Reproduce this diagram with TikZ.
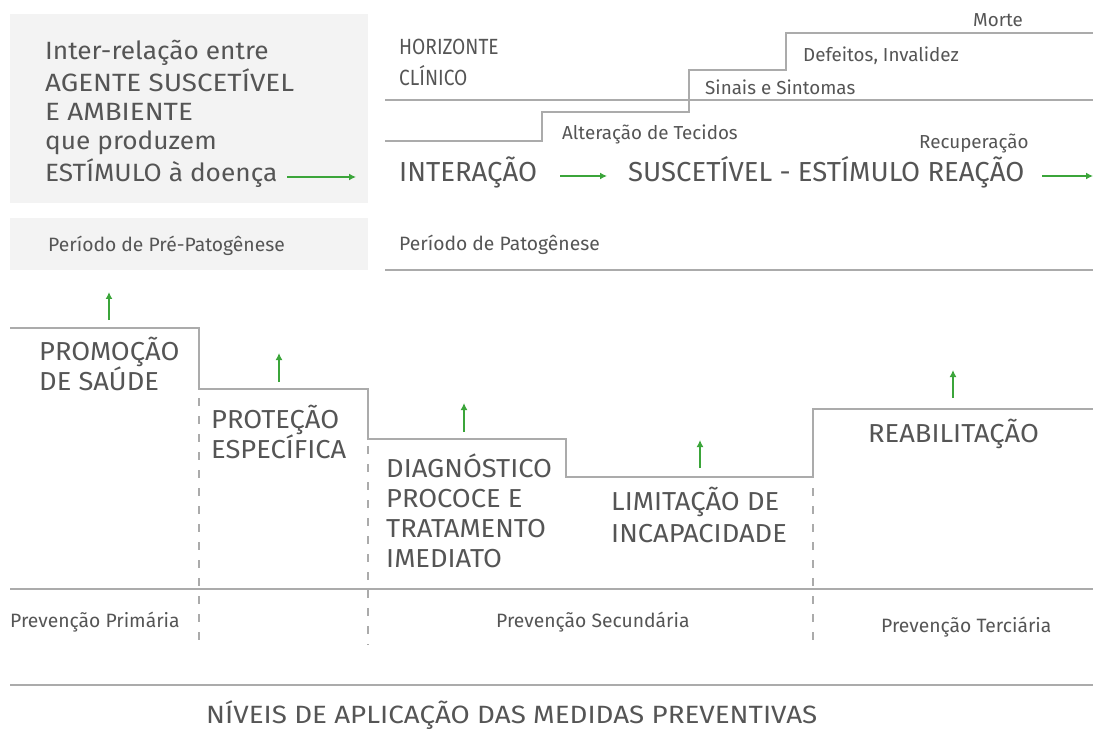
\documentclass[tikz,border=0pt]{standalone}
\usepackage{fontspec}
\setmainfont{Fira Sans}
\newfontfamily\fwide[FakeStretch=1.11]{Fira Sans}
\newfontfamily\fstep[FakeStretch=1.05]{Fira Sans}
\newfontfamily\fhor[FakeStretch=0.87]{Fira Sans}
\usetikzlibrary{arrows.meta}
\definecolor{txt}{HTML}{555555}
\definecolor{ln}{HTML}{ABABAB}
\definecolor{boxbg}{HTML}{F3F3F3}
\definecolor{grn}{HTML}{3BA53A}
\tikzset{
  lbl/.style={anchor=base west, inner sep=0pt, text=txt},
  bigtxt/.style={lbl, font=\fwide\fontsize{25}{25}\selectfont},
  biglow/.style={lbl, font=\fstep\fontsize{25}{25}\selectfont},
  smalltxt/.style={lbl, font=\fontsize{18.8}{18.8}\selectfont},
  topbig/.style={lbl, font=\fontsize{27.5}{27.5}\selectfont},
  hortxt/.style={lbl, font=\fhor\fontsize{22}{22}\selectfont},
  steptxt/.style={lbl, font=\fstep\fontsize{26}{26}\selectfont},
  prevtxt/.style={lbl, font=\fontsize{19.3}{19.3}\selectfont},
  mainline/.style={draw=ln, line width=2pt},
  dashline/.style={draw=ln, line width=1.2pt, dash pattern=on 8pt off 10pt},
  garrow/.style={draw=grn, line width=2pt, -{Latex[length=7pt,width=7pt]}},
}
\begin{document}
\begin{tikzpicture}[x=1pt,y=-1pt]
\useasboundingbox (0,0) rectangle (1093,738);
% grey boxes
\fill[boxbg] (10,14) rectangle (368,203);
\fill[boxbg] (10,218) rectangle (368,270);
% top-left text
\node[biglow] (l1) at (45,60) {Inter-relação entre};
\node[bigtxt] (l2) at (45,92) {AGENTE SUSCETÍVEL};
\node[bigtxt] (l3) at (45,121) {E AMBIENTE};
\node[biglow] (l4) at (45,150) {que produzem};
\node[biglow] (l5) at (45,182) {ESTÍMULO à doença};
\coordinate (a1s) at (287,177);
\coordinate (a1e) at (356,177);
\draw[garrow] (a1s) -- (a1e);
\node[prevtxt] (pre) at (48,252) {Período de Pré-Patogênese};
% top-right
\node[hortxt] (hor1) at (399,55) {HORIZONTE};
\node[hortxt] (hor2) at (399,86) {CLÍNICO};
\draw[mainline] (385,100) -- (1093,100);
\draw[mainline] (385,141) -- (542,141) -- (542,112) -- (689,112) -- (689,70) -- (786,70) -- (786,33) -- (1093,33);
\node[smalltxt] (morte) at (973,27) {Morte};
\node[smalltxt] (def) at (803,62) {Defeitos, Invalidez};
\node[smalltxt] (sin) at (705,95) {Sinais e Sintomas};
\node[smalltxt] (alt) at (562,140) {Alteração de Tecidos};
\node[smalltxt] (rec) at (919,149) {Recuperação};
\node[topbig] (inter) at (399,182) {INTERAÇÃO};
\node[topbig] (susc) at (628,182) {SUSCETÍVEL - ESTÍMULO REAÇÃO};
\coordinate (a2s) at (560,176);
\coordinate (a2e) at (607,176);
\draw[garrow] (a2s) -- (a2e);
\coordinate (a3s) at (1042,176);
\coordinate (a3e) at (1093,176);
\draw[garrow] (a3s) -- (a3e);
\node[prevtxt] (pat) at (399,251) {Período de Patogênese};
\draw[mainline] (385,270) -- (1093,270);
% bottom staircase
\draw[mainline] (10,328) -- (199,328) -- (199,389) -- (368,389) -- (368,439) -- (566,439) -- (566,477) -- (813,477) -- (813,409) -- (1093,409);
\coordinate (u1s) at (109,320); \coordinate (u1e) at (109,292);
\coordinate (u2s) at (279,382); \coordinate (u2e) at (279,353);
\coordinate (u3s) at (464,432); \coordinate (u3e) at (464,403);
\coordinate (u4s) at (700,468); \coordinate (u4e) at (700,440);
\coordinate (u5s) at (953,398); \coordinate (u5e) at (953,370);
\draw[garrow] (u1s) -- (u1e);
\draw[garrow] (u2s) -- (u2e);
\draw[garrow] (u3s) -- (u3e);
\draw[garrow] (u4s) -- (u4e);
\draw[garrow] (u5s) -- (u5e);
\node[steptxt] (prom1) at (39,360) {PROMOÇÃO};
\node[steptxt] (prom2) at (39,390) {DE SAÚDE};
\node[steptxt] (prot1) at (211,428) {PROTEÇÃO};
\node[steptxt] (prot2) at (211,458) {ESPECÍFICA};
\node[steptxt] (diag1) at (386,477) {DIAGNÓSTICO};
\node[steptxt] (diag2) at (386,507) {PROCOCE E};
\node[steptxt] (diag3) at (386,537) {TRATAMENTO};
\node[steptxt] (diag4) at (386,567) {IMEDIATO};
\node[steptxt] (lim1) at (611,510) {LIMITAÇÃO DE};
\node[steptxt] (lim2) at (611,542) {INCAPACIDADE};
\node[steptxt] (reab) at (868,442) {REABILITAÇÃO};
% dashed separators
\draw[dashline] (199,398) -- (199,645);
\draw[dashline] (368,446) -- (368,645);
\draw[dashline] (813,488) -- (813,645);
\draw[mainline] (10,589) -- (1093,589);
\node[prevtxt] (pp) at (10,627) {Prevenção Primária};
\node[prevtxt] (ps) at (496,627) {Prevenção Secundária};
\node[prevtxt] (pt) at (881,632) {Prevenção Terciária};
\draw[mainline] (10,685) -- (1093,685);
\node[lbl, font=\fwide\fontsize{25}{25}\selectfont] (niveis) at (206,723) {NÍVEIS DE APLICAÇÃO DAS MEDIDAS PREVENTIVAS};
\end{tikzpicture}
\end{document}
